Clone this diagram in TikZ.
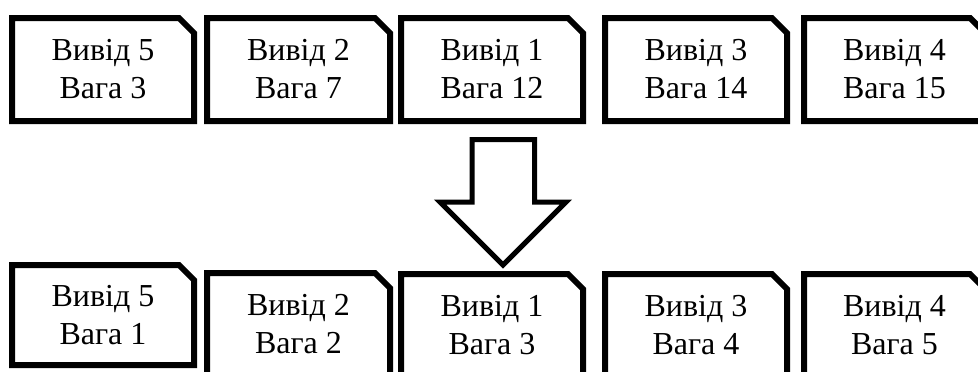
\documentclass[tikz,border=0pt]{standalone}
\usepackage{fontspec}
\setmainfont{Liberation Serif}
\tikzset{
  cardline/.style={draw=black, fill=white, line width=6pt, line join=miter},
  cardtext/.style={align=center, inner sep=0pt, font=\fontsize{32}{38}\selectfont},
  bigarrow/.style={draw=black, fill=white, line width=5pt, line join=miter}
}
% card with a clipped top-right corner: name, left, top, right, bottom, text
\newcommand\cardbox[6]{%
  \draw[cardline] (#2,#3) -- (#4-15,#3) -- (#4,#3+15) -- (#4,#5) -- (#2,#5) -- cycle;
  \node[cardtext] (#1) at ({(#2+#4)/2},{(#3+#5)/2}) {#6};
}
\begin{document}
\begin{tikzpicture}[x=1pt, y=-1pt]
\useasboundingbox (0,0) rectangle (978,372);
\clip (0,0) rectangle (978,372);
\fill[white] (0,0) rectangle (978,372);

% weights before
\cardbox{a5}{12}{18}{194}{121}{Вивід 5\\Вага 3}
\cardbox{a2}{207}{18}{390}{121}{Вивід 2\\Вага 7}
\cardbox{a1}{401}{18}{583}{121}{Вивід 1\\Вага 12}
\cardbox{a3}{605}{18}{787}{121}{Вивід 3\\Вага 14}
\cardbox{a4}{804}{18}{985}{121}{Вивід 4\\Вага 15}

% transition arrow
\coordinate (tip) at (503,265);
\draw[bigarrow] (472,139.5) -- (534.5,139.5) -- (534.5,202) -- (566,202)
  -- (tip) -- (440,202) -- (472,202) -- cycle;

% weights after
\cardbox{b5}{12}{265}{194}{365}{Вивід 5\\Вага 1}
\cardbox{b2}{207}{273}{390}{376}{Вивід 2\\Вага 2}
\cardbox{b1}{401}{274}{583}{377}{Вивід 1\\Вага 3}
\cardbox{b3}{605}{274}{787}{377}{Вивід 3\\Вага 4}
\cardbox{b4}{804}{274}{985}{377}{Вивід 4\\Вага 5}
\end{tikzpicture}
\end{document}
